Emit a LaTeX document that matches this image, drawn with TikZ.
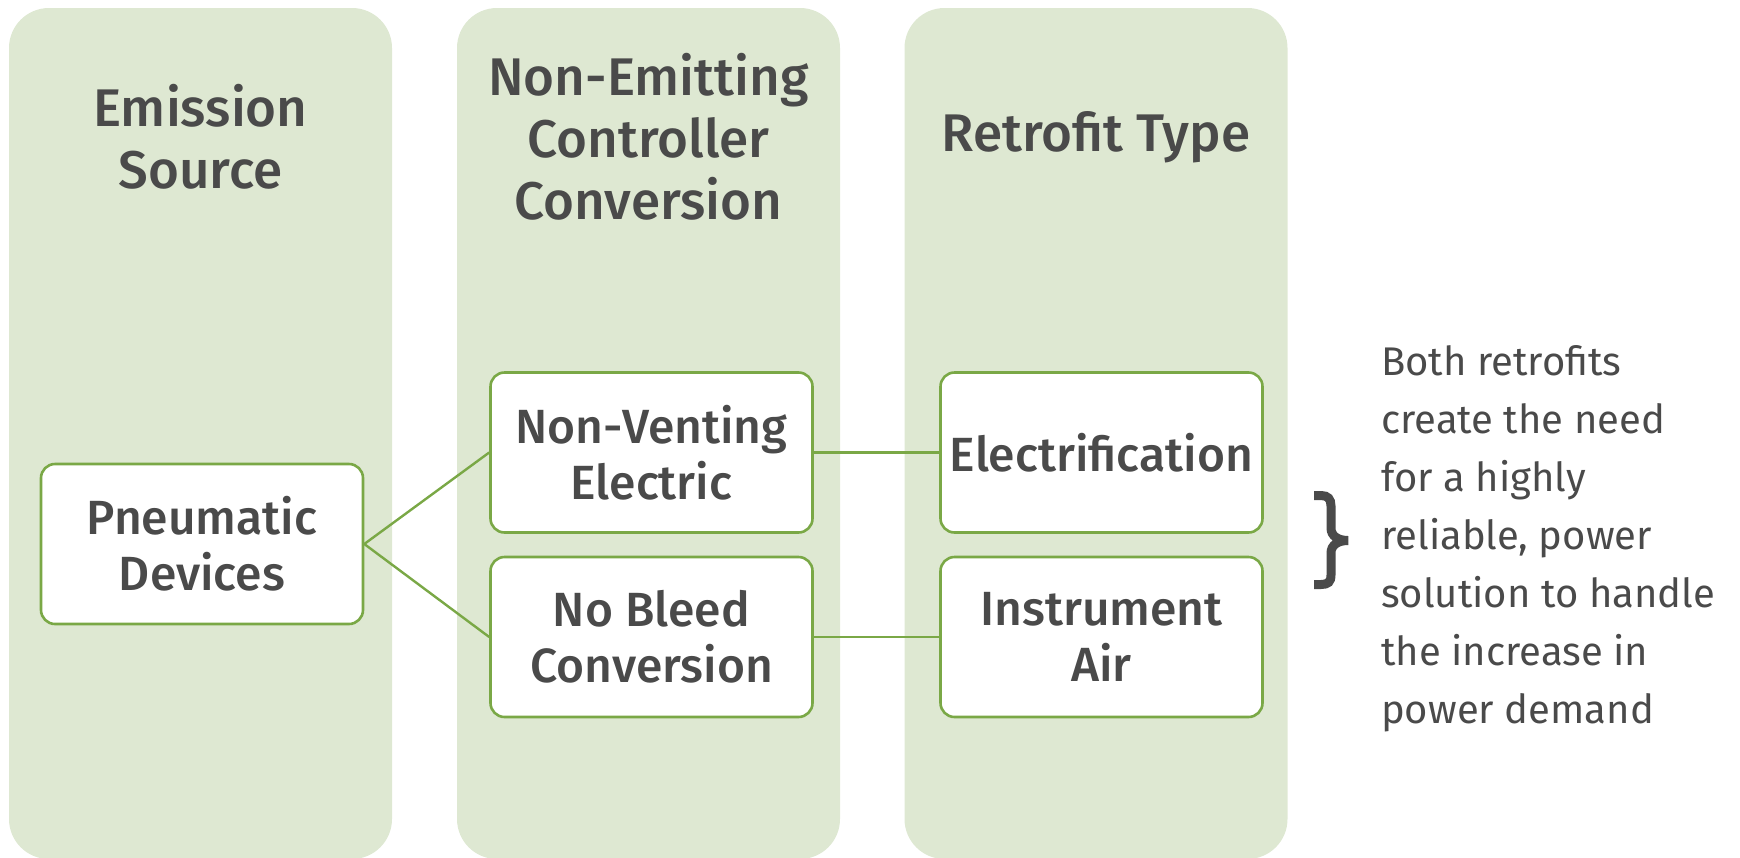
\documentclass[tikz,border=0pt]{standalone}
\usepackage{fontspec}
\setmainfont{Fira Sans Medium}
\newfontfamily\notefont{Fira Sans}
\definecolor{colfill}{HTML}{DEE8D2}
\definecolor{boxgreen}{HTML}{7AA846}
\definecolor{txt}{HTML}{4A4A4A}
\tikzset{
  column/.style={fill=colfill, draw=none, rounded corners=40pt, minimum width=383pt, minimum height=851pt, inner sep=0pt},
  itembox/.style={draw=boxgreen, line width=2.6pt, fill=white, rounded corners=14pt, minimum width=322pt, minimum height=160pt, inner sep=0pt, align=center, text=txt, font=\fontsize{48}{56}\selectfont},
  header/.style={align=center, text=txt, font=\fontsize{53}{62}\selectfont},
  link/.style={draw=boxgreen, line width=2.4pt},
  note/.style={align=left, text=txt, inner sep=0pt, font=\notefont\fontsize{40}{58}\selectfont},
  bracefill/.style={draw=txt, line width=9pt, line join=miter},
}
\begin{document}
\begin{tikzpicture}[x=1pt,y=-1pt]
\useasboundingbox (0,0) rectangle (1740,857);
% columns
\node[column] (col1) at (200.5,433.5) {};
\node[column] (col2) at (648.5,433.5) {};
\node[column] (col3) at (1096,433.5) {};
% headers
\node[header] (h1) at (200.5,137) {Emission\\Source};
\node[header] (h2) at (648.5,137) {Non-Emitting\\Controller\\Conversion};
\node[header] (h3) at (1096,137) {Retrofit Type};
% boxes
\node[itembox] (pd) at (202,544) {Pneumatic\\Devices};
\node[itembox] (nv) at (651.5,452.5) {Non-Venting\\Electric};
\node[itembox] (nb) at (651.5,637) {No Bleed\\Conversion};
\node[itembox] (el) at (1101.5,452.5) {Electrification};
\node[itembox] (ia) at (1101.5,637) {Instrument\\Air};
% links
\draw[link] (pd.east) -- (nv.west);
\draw[link] (pd.east) -- (nb.west);
\draw[link] (nv.east) -- (el.west);
\draw[link] (nb.east) -- (ia.west);
% brace
\draw[bracefill] (1314,495.5) -- (1321,495.5) .. controls (1328,495.5) and (1331,499) .. (1331,506) -- (1331,528) .. controls (1331,536) and (1338,540.5) .. (1348,540.5) .. controls (1338,540.5) and (1331,545) .. (1331,553) -- (1331,575) .. controls (1331,582) and (1328,584.5) .. (1321,584.5) -- (1314,584.5);
% note
\node[note, anchor=north west] (nt) at (1381,345) {Both retrofits\\create the need\\for a highly\\reliable, power\\solution to handle\\the increase in\\power demand};
\end{tikzpicture}
\end{document}
